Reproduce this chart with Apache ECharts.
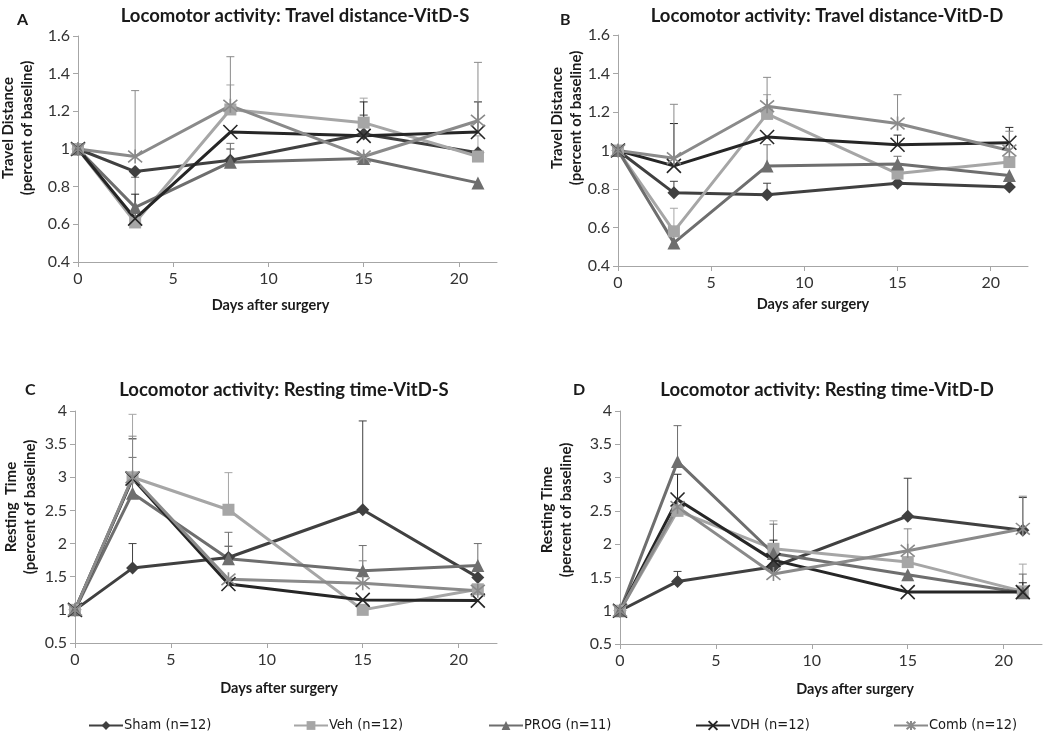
<!DOCTYPE html>
<html>
<head>
<meta charset="utf-8">
<script src="https://cdn.jsdelivr.net/npm/echarts@6/dist/echarts.min.js"></script>
<style>
  html, body { margin: 0; padding: 0; background: #fff; }
  #main { width: 1050px; height: 732px; }
</style>
</head>
<body>
<div id="main"></div>
<script>
// days after surgery (x values shared by all panels)
var days = [0, 3, 8, 15, 21];
var groups = ["Sham (n=12)", "Veh (n=12)", "PROG (n=11)", "VDH (n=12)", "Comb (n=12)"];

// A: travel distance VitD-S, rows in the order of groups
var distS = [
    [1, 0.88, 0.94, 1.08, 0.98],
    [1, 0.61, 1.21, 1.14, 0.96],
    [1, 0.69, 0.93, 0.95, 0.82],
    [1, 0.63, 1.09, 1.07, 1.09],
    [1, 0.96, 1.23, 0.96, 1.15]
];
var distS_se = [
    [null, null, 0.06, 0.10, null],
    [null, null, 0.13, 0.13, 0.11],
    [null, 0.16, 0.10, null, null],
    [null, 0.13, null, 0.18, 0.16],
    [null, 0.35, 0.26, null, 0.31]
];

// B: travel distance VitD-D
var distD = [
    [1, 0.78, 0.77, 0.83, 0.81],
    [1, 0.58, 1.19, 0.88, 0.94],
    [1, 0.52, 0.92, 0.93, 0.87],
    [1, 0.92, 1.07, 1.03, 1.04],
    [1, 0.96, 1.23, 1.14, 1.00]
];
var distD_se = [
    [null, 0.06, 0.06, null, null],
    [null, 0.12, 0.10, null, null],
    [null, null, 0.11, 0.04, null],
    [null, 0.22, null, 0.05, 0.08],
    [null, 0.28, 0.15, 0.15, 0.10]
];

// C: resting time VitD-S
var restS = [
    [1, 1.63, 1.79, 2.51, 1.49],
    [1, 3.00, 2.51, 1.00, 1.31],
    [1, 2.76, 1.77, 1.59, 1.67],
    [1, 2.98, 1.39, 1.15, 1.14],
    [1, 3.00, 1.46, 1.40, 1.29]
];
var restS_se = [
    [null, 0.37, 0.17, 1.34, null],
    [null, 0.95, 0.56, null, null],
    [null, 0.54, 0.40, 0.38, 0.33],
    [null, 0.60, null, null, null],
    [null, 0.62, null, 0.34, null]
];

// D: resting time VitD-D
var restD = [
    [1, 1.44, 1.66, 2.42, 2.21],
    [1, 2.50, 1.93, 1.73, 1.29],
    [1, 3.24, 1.86, 1.54, 1.27],
    [1, 2.67, 1.76, 1.28, 1.28],
    [1, 2.56, 1.55, 1.90, 2.23]
];
var restD_se = [
    [null, 0.15, null, 0.57, 0.49],
    [null, null, 0.42, null, 0.41],
    [null, 0.54, 0.44, null, 0.28],
    [null, 0.38, 0.30, null, 0.14],
    [null, null, null, 0.33, 0.49]
];

// styles
var colors = ["#404040", "#a6a6a6", "#6e6e6e", "#262626", "#8a8a8a"];
var symbols = [
    "diamond",
    "rect",
    "triangle",
    "path://M0,0L10,10M10,0L0,10",
    "path://M0,0L10,10M10,0L0,10M5,-1L5,11"
];
var symbolSizes = [13, 12, 13, 14, 14];
var font = "Lato, 'Open Sans', sans-serif";

var myChart = echarts.init(document.getElementById("main"));

var panels = [
    { means: distS, se: distS_se },
    { means: distD, se: distD_se },
    { means: restS, se: restS_se },
    { means: restD, se: restD_se }
];

function errorBar(color) {
    return function (params, api) {
        var x = api.value(0);
        var p0 = api.coord([x, api.value(1)]);
        var p1 = api.coord([x, api.value(2)]);
        var st = { stroke: color, lineWidth: 1 };
        return {
            type: "group",
            children: [
                { type: "line", shape: { x1: p0[0], y1: p0[1], x2: p1[0], y2: p1[1] }, style: st },
                { type: "line", shape: { x1: p1[0] - 4, y1: p1[1], x2: p1[0] + 4, y2: p1[1] }, style: st }
            ]
        };
    };
}

var series = [];
panels.forEach(function (p, k) {
    for (var g = 0; g < groups.length; g++) {
        var pts = [];
        var bars = [];
        for (var i = 0; i < days.length; i++) {
            pts.push([days[i], p.means[g][i]]);
            if (p.se[g][i] != null) {
                bars.push([days[i], p.means[g][i], p.means[g][i] + p.se[g][i]]);
            }
        }
        series.push({
            type: "custom",
            xAxisIndex: k,
            yAxisIndex: k,
            renderItem: errorBar(colors[g]),
            data: bars,
            z: 1,
            silent: true
        });
        series.push({
            name: groups[g],
            type: "line",
            xAxisIndex: k,
            yAxisIndex: k,
            data: pts,
            symbol: symbols[g],
            symbolSize: symbolSizes[g],
            showAllSymbol: true,
            lineStyle: { color: colors[g], width: 3 },
            itemStyle: { color: colors[g], borderColor: colors[g], borderWidth: g >= 3 ? 1.6 : 0 },
            z: 3
        });
    }
});

// grid boxes A, B, C, D
var grids = [
    { left: 78, top: 36, width: 419, height: 226 },
    { left: 618, top: 35, width: 410, height: 231 },
    { left: 75, top: 411, width: 422, height: 232 },
    { left: 620, top: 411, width: 422, height: 233 }
];
var xNames = ["Days after surgery", "Days afer surgery", "Days after surgery", "Days after surgery"];
var xNamePad = [[0, 34, 0, 0], [0, 20, 0, 0], [0, 14, 0, 0], [0, 0, 0, 48]];
var xNameGap = [36, 31, 38, 38];
var yNames = [
    "Travel Distance\n(percent of baseline)",
    "Travel Distance\n(percent of baseline)",
    "Resting  Time\n(percent of baseline)",
    "Resting Time\n(percent of baseline)"
];
// centre of each rotated y-axis caption
var yNamePos = [[18, 128], [567, 118], [21, 507], [557, 510]];

var xAxes = grids.map(function (gr, k) {
    return {
        gridIndex: k,
        type: "value",
        min: 0,
        max: 22,
        interval: 5,
        name: xNames[k],
        nameLocation: "middle",
        nameGap: xNameGap[k],
        nameTextStyle: { fontFamily: font, fontWeight: "bold", fontSize: 14.5, color: "#1a1a1a", padding: xNamePad[k] },
        axisLine: { lineStyle: { color: "#a6a6a6", width: 1 } },
        axisTick: { lineStyle: { color: "#a6a6a6" }, length: 5 },
        axisLabel: { showMaxLabel: false, fontFamily: font, fontSize: 16, color: "#333", margin: 9 },
        splitLine: { show: false }
    };
});
var yAxes = grids.map(function (gr, k) {
    var travel = k < 2;
    return {
        gridIndex: k,
        type: "value",
        min: travel ? 0.4 : 0.5,
        max: travel ? 1.6 : 4,
        interval: travel ? 0.2 : 0.5,
        axisLine: { show: true, lineStyle: { color: "#a6a6a6", width: 1 } },
        axisTick: { show: true, lineStyle: { color: "#a6a6a6" }, length: 5 },
        axisLabel: { fontFamily: font, fontSize: 16, color: "#333", margin: 8 },
        splitLine: { show: false }
    };
});

var yCaptions = yNames.map(function (t, k) {
    return {
        type: "text",
        x: yNamePos[k][0],
        y: yNamePos[k][1],
        rotation: Math.PI / 2,
        style: {
            text: t,
            textAlign: "center",
            textVerticalAlign: "middle",
            fontFamily: font,
            fontWeight: "bold",
            fontSize: 15,
            lineHeight: 19,
            fill: "#1a1a1a"
        }
    };
});

// panel titles and letters
var titleTexts = [
    "Locomotor activity: Travel distance-VitD-S",
    "Locomotor activity: Travel distance-VitD-D",
    "Locomotor activity: Resting time-VitD-S",
    "Locomotor activity: Resting time-VitD-D"
];
var titlePos = [[290, 2], [822, 2], [279, 376], [822, 376]];
var letters = ["A", "B", "C", "D"];
var letterPos = [[12, 7], [555, 7], [20, 377], [568, 377]];

var titles = [];
titleTexts.forEach(function (t, k) {
    titles.push({
        text: t,
        left: titlePos[k][0],
        top: titlePos[k][1],
        textAlign: "center",
        textStyle: { fontFamily: font, fontWeight: "bold", fontSize: 18.5, color: "#1a1a1a" }
    });
    titles.push({
        text: letters[k],
        left: letterPos[k][0],
        top: letterPos[k][1],
        textStyle: { fontFamily: font, fontWeight: "bold", fontSize: 16, color: "#1a1a1a" }
    });
});

// one legend per item so each sits where it does in the figure
var legendLeft = [83, 288, 483, 690, 888];
var legends = groups.map(function (name, g) {
    return {
        data: [name],
        left: legendLeft[g],
        top: 713,
        itemWidth: 34,
        itemHeight: 11,
        itemGap: 0,
        textStyle: { fontFamily: "'DejaVu Sans Condensed', 'Liberation Sans Narrow', sans-serif", fontSize: 14.5, color: "#1a1a1a", padding: [0, 0, 0, -4] },
        selectedMode: false
    };
});

var option = {
    backgroundColor: "#ffffff",
    animation: false,
    title: titles,
    legend: legends,
    grid: grids,
    xAxis: xAxes,
    yAxis: yAxes,
    graphic: yCaptions,
    series: series
};

myChart.setOption(option);
window.addEventListener("resize", function () {
    myChart.resize();
});
</script>
</body>
</html>
